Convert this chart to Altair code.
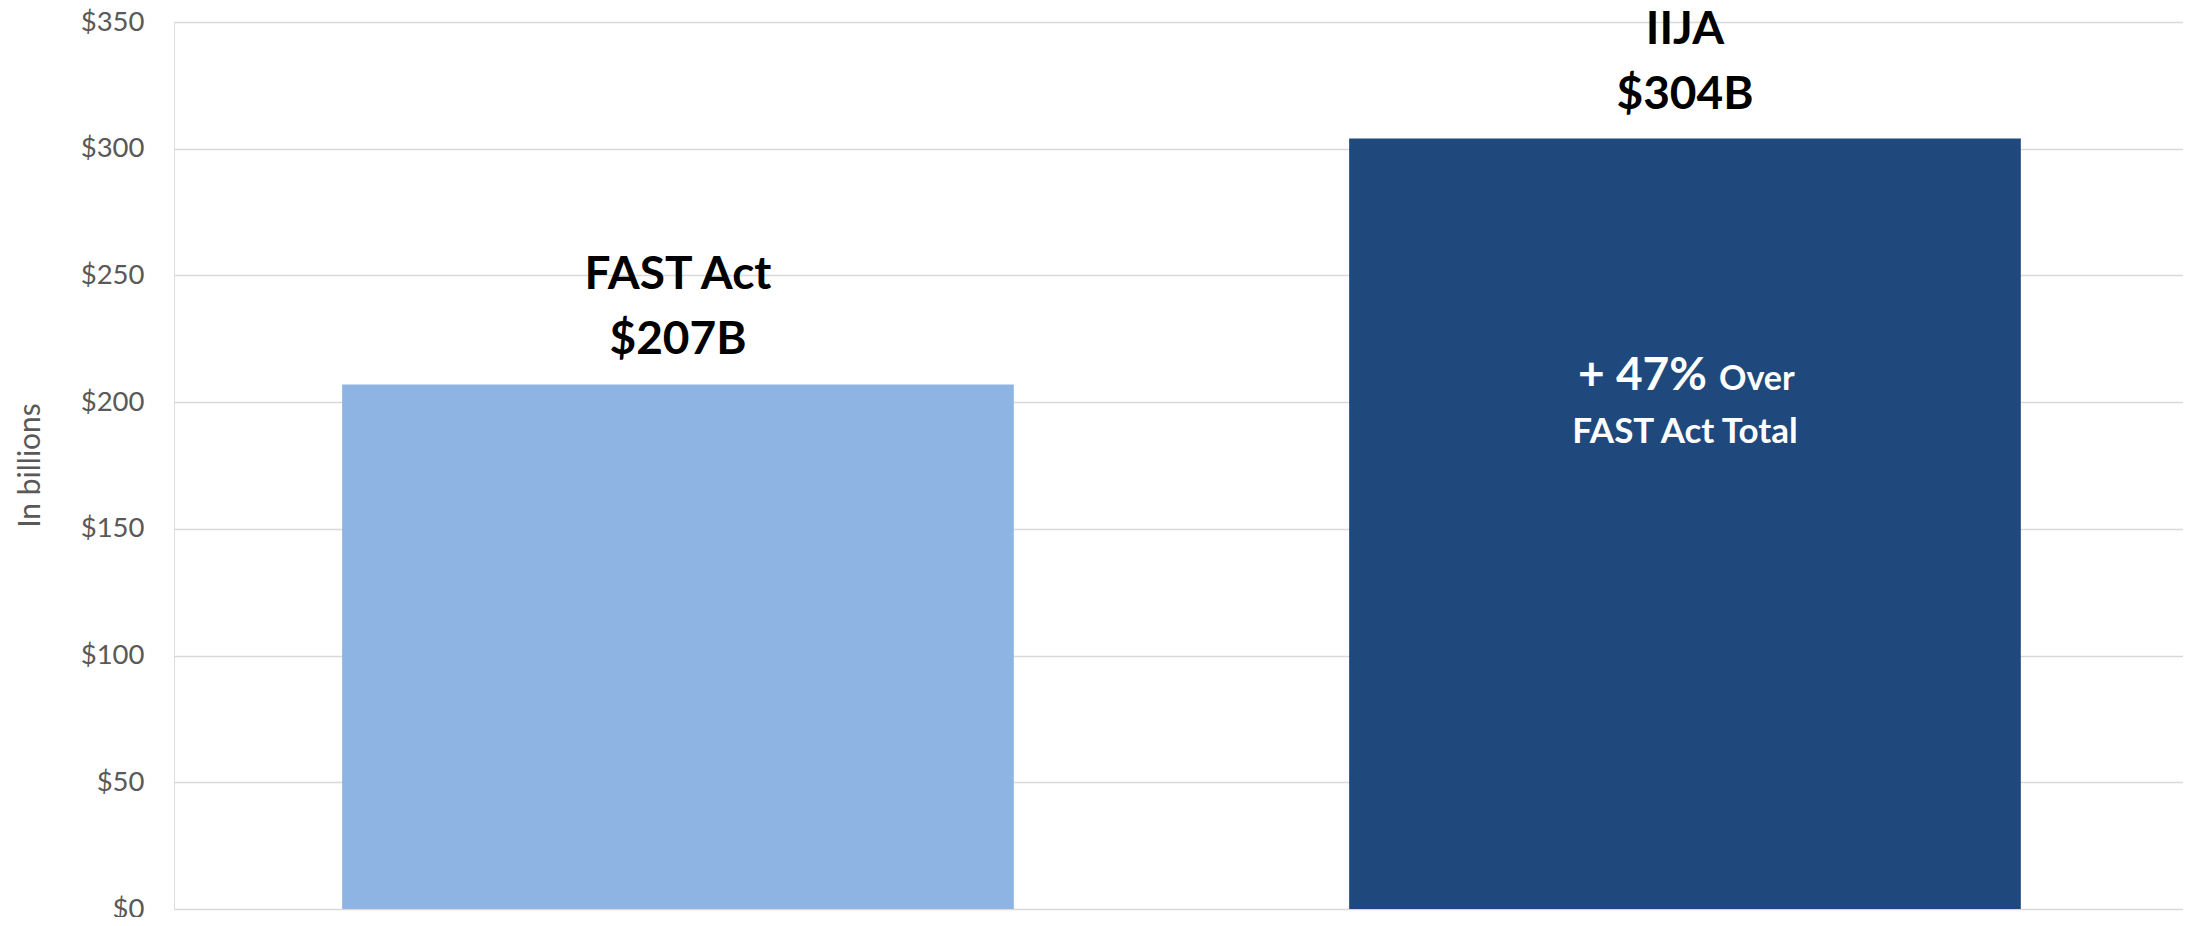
import altair as alt
import pandas as pd

programs = ["FAST Act", "IIJA"]
values = [207, 304]
value_labels = ["$207B", "$304B"]
bar_colors = ["#8EB4E3", "#1F497D"]

inside_program = ["IIJA"]
inside_pct = ["+ 47%"]
inside_word = ["Over"]
inside_line2 = ["FAST Act Total"]

y_ticks = [0, 50, 100, 150, 200, 250, 300, 350]

df = pd.DataFrame({"program": programs, "value": values, "label": value_labels})
inside = pd.DataFrame({
    "program": inside_program,
    "value": [values[programs.index(p)] for p in inside_program],
    "pct": inside_pct,
    "word": inside_word,
    "line2": inside_line2,
})

FONT = "Lato"

x = alt.X("program:N", sort=programs, axis=None,
          scale=alt.Scale(paddingInner=0.333, paddingOuter=0.164, align=0.509))
y = alt.Y("value:Q",
          scale=alt.Scale(domain=[0, 350], nice=False),
          axis=alt.Axis(values=y_ticks, labelExpr="'$' + datum.value",
                        title="In billions", grid=True, gridColor="#D9D9D9",
                        gridWidth=1.5, domain=False, ticks=False,
                        labelFont=FONT, labelFontSize=27.5, labelColor="#595959",
                        labelPadding=30, titleFont=FONT, titleFontSize=30,
                        titleFontWeight="normal", titleColor="#595959",
                        titleAngle=-90, titleX=-144, titleY=443,
                        titleAlign="center", titleBaseline="middle"))

bars = alt.Chart(df).mark_bar().encode(
    x=x, y=y,
    color=alt.Color("program:N", scale=alt.Scale(domain=programs, range=bar_colors), legend=None),
)

name_txt = alt.Chart(df).mark_text(font=FONT, fontWeight="bold", fontSize=46, color="#000000",
                                   baseline="alphabetic", dy=-95).encode(
    x=x, y="value:Q", text="program:N")
val_txt = alt.Chart(df).mark_text(font=FONT, fontWeight="bold", fontSize=46, color="#000000",
                                  baseline="alphabetic", dy=-30).encode(
    x=x, y="value:Q", text="label:N")

pct_txt = alt.Chart(inside).mark_text(font=FONT, fontWeight="bold", fontSize=46, color="#FFFFFF",
                                      baseline="alphabetic", align="right", dx=22, dy=251).encode(
    x=x, y="value:Q", text="pct:N")
word_txt = alt.Chart(inside).mark_text(font=FONT, fontWeight="bold", fontSize=34, color="#FFFFFF",
                                       baseline="alphabetic", align="left", dx=34, dy=251).encode(
    x=x, y="value:Q", text="word:N")
line2_txt = alt.Chart(inside).mark_text(font=FONT, fontWeight="bold", fontSize=35, color="#FFFFFF",
                                        baseline="alphabetic", dy=304).encode(
    x=x, y="value:Q", text="line2:N")

chart = alt.layer(bars, name_txt, val_txt, pct_txt, word_txt, line2_txt).properties(
    width=2009, height=887,
    autosize=alt.AutoSizeParams(type="none"),
    padding={"left": 166, "top": 14, "right": 0, "bottom": 8},
).configure_view(strokeWidth=0).configure(background="#FFFFFF")

chart.save("out.html", embed_options={"renderer": "svg", "actions": False})
